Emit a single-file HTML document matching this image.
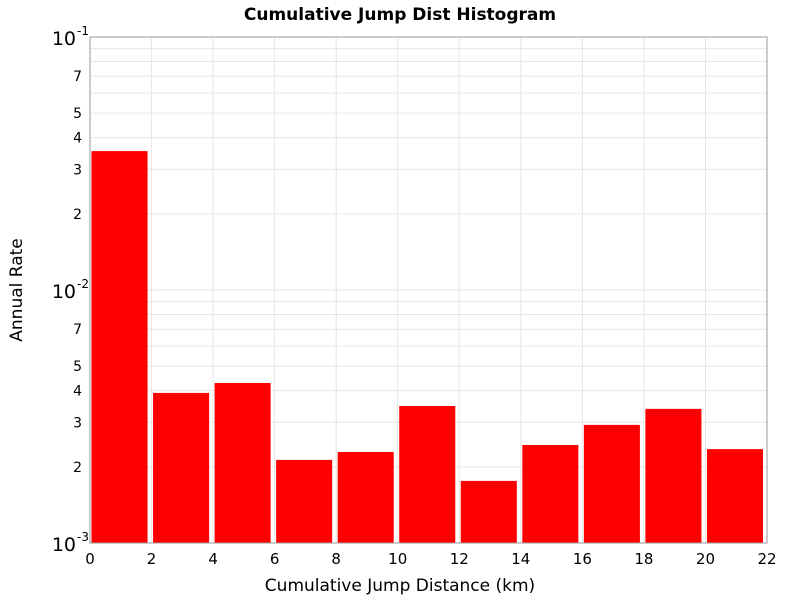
<!DOCTYPE html>
<html><head><meta charset="utf-8"><style>
body{margin:0;background:#fff;font-family:"Liberation Sans","DejaVu Sans",sans-serif}
svg text{font-family:"DejaVu Sans","Liberation Sans",sans-serif}
</style></head><body>
<svg id="chart" width="800" height="600">
<text x="400" y="20" text-anchor="middle" font-size="17" font-weight="bold">Cumulative Jump Dist Histogram</text>
<text x="400" y="591" text-anchor="middle" font-size="17">Cumulative Jump Distance (km)</text>
<text transform="translate(22,290) rotate(-90)" text-anchor="middle" font-size="17">Annual Rate</text>
<g id="grid"></g><g id="bars"></g><g id="axes"></g>
</svg>
<script>
const binStarts=[0,2,4,6,8,10,12,14,16,18,20];
const rates=[0.0354,0.00392,0.00429,0.00213,0.00229,0.00348,0.00176,0.00244,0.00293,0.00339,0.00235];
const xTicks=[0,2,4,6,8,10,12,14,16,18,20,22];
const yMinorLabels=[2,3,4,5,7];
const yDecades=[-3,-2,-1];
const L=90,R=767,T=37,B=543;
const xs=v=>L+(v-0)/22*(R-L);
const ys=v=>B-(Math.log10(v)+3)/2*(B-T);
const ns="http://www.w3.org/2000/svg";
function mk(t,a,p){const e=document.createElementNS(ns,t);for(const k in a)e.setAttribute(k,a[k]);p.appendChild(e);return e;}
const grid=document.getElementById('grid'),bars=document.getElementById('bars'),axes=document.getElementById('axes');
mk('rect',{x:L,y:T,width:R-L,height:B-T,fill:'#fff',stroke:'none'},grid);
for(const d of [-3,-2]){for(let m=1;m<10;m++){const y=ys(m*Math.pow(10,d));
const g=mk('line',{x1:L,x2:R,y1:y,y2:y,stroke:'#e6e6e6','stroke-width':1},grid);


if(m>1&&yMinorLabels.includes(m)){const t=mk('text',{x:L-8,y:y+5,'text-anchor':'end','font-size':14},axes);t.textContent=m;

}}}
for(const v of xTicks){const x=xs(v);
const g=mk('line',{x1:x,x2:x,y1:T,y2:B,stroke:'#e6e6e6'},grid);


const t=mk('text',{x:x,y:B+21,'text-anchor':'middle','font-size':15},axes);t.textContent=v;

}
for(const d of yDecades){const y=ys(Math.pow(10,d));
const t=mk('text',{x:L-14,y:y+8,'text-anchor':'end','font-size':19},axes);t.textContent='10';


const s=mk('text',{x:L-13,y:y-2,'text-anchor':'start','font-size':12},axes);s.textContent=String(d);

}
binStarts.forEach((b,i)=>{const x0=xs(b)+1.5,x1=xs(b+2)-4,y=ys(rates[i]);
const r=mk('rect',{x:x0,y:y,width:x1-x0,height:B-y,fill:'#ff0000'},bars);

});
const f=mk('rect',{x:L,y:T,width:R-L,height:B-T,fill:'none',stroke:'#999'},axes);


</script>
</body></html>
